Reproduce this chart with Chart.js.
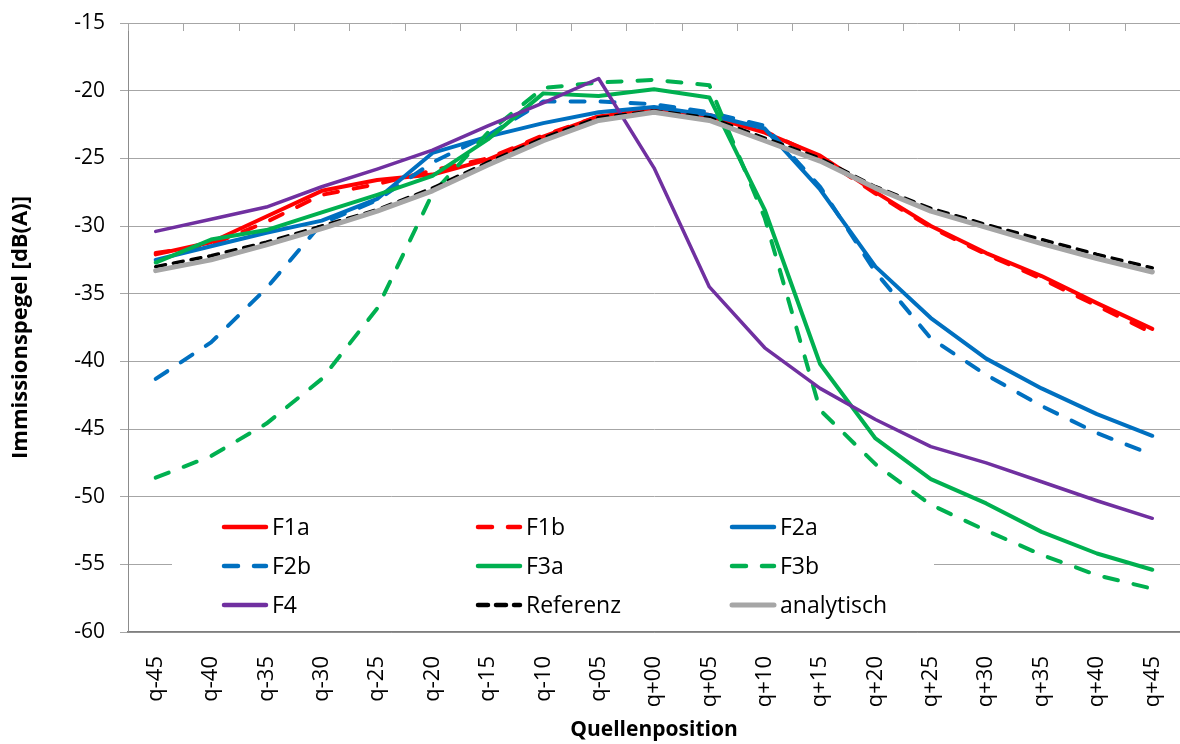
<!DOCTYPE html>
<html>
<head>
<meta charset="utf-8">
<script src="https://cdn.jsdelivr.net/npm/chart.js@4"></script>
<style>
  body { margin: 0; background: #fff; }
  canvas { display: block; }
</style>
</head>
<body>
<canvas id="chart" width="1180" height="744"></canvas>
<script>
var positions = ["q-45", "q-40", "q-35", "q-30", "q-25", "q-20", "q-15", "q-10", "q-05", "q+00",
                 "q+05", "q+10", "q+15", "q+20", "q+25", "q+30", "q+35", "q+40", "q+45"];

var f1a = [-32.1, -31.2, -29.3, -27.4, -26.6, -26.2, -25.1, -23.4, -21.9, -21.4, -21.9, -23.1, -24.8, -27.5, -30.0, -32.0, -33.7, -35.7, -37.6];
var f1b = [-32.0, -31.4, -29.7, -27.7, -26.9, -25.9, -25.0, -23.3, -21.9, -21.3, -21.8, -23.0, -24.9, -27.6, -30.1, -32.1, -33.9, -35.9, -37.9];
var f2a = [-32.5, -31.5, -30.5, -29.6, -28.0, -24.6, -23.4, -22.4, -21.6, -21.2, -21.8, -22.8, -27.3, -33.0, -36.8, -39.8, -42.0, -43.9, -45.5];
var f2b = [-41.3, -38.6, -34.6, -29.8, -28.1, -25.3, -23.3, -20.8, -20.8, -21.0, -21.6, -22.6, -27.1, -33.4, -38.3, -41.0, -43.3, -45.3, -46.9];
var f3a = [-32.7, -31.0, -30.3, -29.0, -27.7, -26.3, -23.6, -20.2, -20.4, -19.9, -20.5, -28.8, -40.2, -45.7, -48.7, -50.5, -52.6, -54.2, -55.4];
var f3b = [-48.6, -47.0, -44.6, -41.3, -36.1, -27.6, -23.1, -19.8, -19.4, -19.2, -19.6, -29.4, -43.6, -47.6, -50.6, -52.5, -54.3, -55.8, -56.8];
var f4 = [-30.4, -29.5, -28.6, -27.1, -25.8, -24.4, -22.6, -20.9, -19.1, -25.7, -34.5, -39.0, -42.0, -44.3, -46.3, -47.5, -48.9, -50.3, -51.6];
var referenz = [-33.0, -32.2, -31.2, -30.0, -28.8, -27.2, -25.3, -23.5, -22.0, -21.5, -22.0, -23.5, -25.0, -27.1, -28.7, -29.9, -31.0, -32.1, -33.1];
var analytisch = [-33.3, -32.5, -31.4, -30.2, -28.9, -27.4, -25.5, -23.7, -22.2, -21.6, -22.2, -23.7, -25.2, -27.2, -28.9, -30.1, -31.3, -32.4, -33.4];

var yTicks = [-60, -55, -50, -45, -40, -35, -30, -25, -20, -15];

var RED = "#FF0000", BLUE = "#0070C0", GREEN = "#00B050", PURPLE = "#7030A0", GREY = "#A6A6A6";
var longDash = [14, 16];
var shortDash = [10, 8];

function series(label, data, color, width, dash) {
    return {
        label: label,
        data: data,
        borderColor: color,
        backgroundColor: color,
        borderWidth: width,
        borderDash: dash || [],
        borderCapStyle: "round",
        borderJoinStyle: "round",
        pointRadius: 0,
        tension: 0,
        fill: false,
    };
}

var datasets = [
    series("F1a", f1a, RED, 4),
    series("F1b", f1b, RED, 4, longDash),
    series("F2a", f2a, BLUE, 4),
    series("F2b", f2b, BLUE, 4, longDash),
    series("F3a", f3a, GREEN, 4),
    series("F3b", f3b, GREEN, 4, longDash),
    series("F4", f4, PURPLE, 3.5),
    series("Referenz", referenz, "#000000", 3.5, shortDash),
    series("analytisch", analytisch, GREY, 5),
];
// excel draws later series on top
datasets.forEach((ds, i) => { ds.order = datasets.length - i; });

// small tick marks hanging down from the top edge, between categories
var topTicks = {
    id: "topTicks",
    beforeDatasetsDraw(chart) {
        var xs = chart.scales.x, top = chart.chartArea.top, ctx = chart.ctx;
        ctx.save();
        ctx.strokeStyle = "#A6A6A6";
        ctx.lineWidth = 1;
        for (var i = 0; i <= positions.length; i++) {
            var x = Math.round(xs.getPixelForValue(i - 0.5)) + 0.5;
            ctx.beginPath();
            ctx.moveTo(x, top);
            ctx.lineTo(x, top + 8);
            ctx.stroke();
        }
        ctx.restore();
    },
};

// legend sits inside the plot, bottom left, three columns
var innerLegend = {
    id: "innerLegend",
    afterDraw(chart) {
        var ctx = chart.ctx;
        ctx.save();
        ctx.fillStyle = "#ffffff";
        ctx.fillRect(172, 507, 762, 122);
        ctx.font = "23px 'Open Sans'";
        ctx.textBaseline = "middle";
        ctx.textAlign = "left";
        chart.data.datasets.forEach((ds, i) => {
            var x = 222 + (i % 3) * 254;
            var y = 527 + Math.floor(i / 3) * 39;
            ctx.strokeStyle = ds.borderColor;
            ctx.lineWidth = ds.label === "analytisch" ? 5 : 4.5;
            ctx.lineCap = "round";
            ctx.setLineDash(ds.borderDash);
            ctx.beginPath();
            ctx.moveTo(x + 2, y);
            ctx.lineTo(x + 44, y);
            ctx.stroke();
            ctx.setLineDash([]);
            ctx.fillStyle = "#000000";
            ctx.fillText(ds.label, x + 50, y + 1);
        });
        ctx.restore();
    },
};

new Chart(document.getElementById("chart"), {
    type: "line",
    data: {
        labels: positions,
        datasets: datasets,
    },
    plugins: [topTicks, innerLegend],
    options: {
        responsive: false,
        animation: false,
        layout: {
            padding: { top: 23, right: 0, bottom: 0, left: 0 },
        },
        plugins: {
            legend: { display: false },
            tooltip: { enabled: false },
        },
        scales: {
            x: {
                type: "category",
                offset: true,
                grid: { display: false, drawTicks: false },
                border: { display: true, color: "#7F7F7F", width: 1.5 },
                ticks: {
                    autoSkip: false,
                    minRotation: 90,
                    maxRotation: 90,
                    padding: 24,
                    color: "#000000",
                    font: { family: "'Open Sans'", size: 22 },
                },
                title: {
                    display: true,
                    text: "Quellenposition",
                    color: "#000000",
                    font: { family: "'Open Sans'", size: 21, weight: "bold" },
                    padding: { top: 0, bottom: 1 },
                },
                afterFit(scale) {
                    scale.height = 112;
                    scale.paddingLeft = 0;
                    scale.paddingRight = 0;
                },
            },
            y: {
                min: -60,
                max: -15,
                afterBuildTicks(scale) {
                    scale.ticks = yTicks.map(v => ({ value: v }));
                },
                grid: {
                    color: "#A6A6A6",
                    lineWidth: 1,
                    tickLength: 8,
                    tickColor: "#A6A6A6",
                },
                border: { display: true, color: "#8C8C8C", width: 1 },
                ticks: {
                    padding: 15,
                    color: "#000000",
                    font: { family: "'Open Sans'", size: 21 },
                    callback: v => String(v),
                },
                title: {
                    display: true,
                    text: "Immissionspegel [dB(A)]",
                    color: "#000000",
                    font: { family: "'Open Sans'", size: 22, weight: "bold" },
                    padding: { top: 8, bottom: 0 },
                },
                afterFit(scale) {
                    scale.width = 128;
                    scale.paddingTop = 0;
                    scale.paddingBottom = 0;
                },
            },
        },
    },
});
</script>
</body>
</html>
